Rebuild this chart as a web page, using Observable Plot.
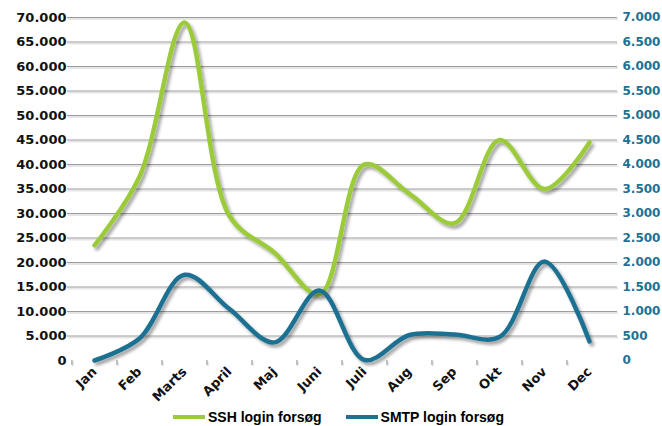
<!DOCTYPE html>
<html>
<head>
<meta charset="utf-8">
<script src="https://cdn.jsdelivr.net/npm/d3@7"></script>
<script src="https://cdn.jsdelivr.net/npm/@observablehq/plot@0.6"></script>
<style>
  body { margin: 0; background: #fff; }
  #chart { position: relative; width: 662px; height: 426px; overflow: hidden; }
  .legend { position: absolute; top: 409px; left: 173px; display: flex; gap: 24px;
            font: bold 14px "Liberation Sans", Arial, sans-serif; color: #000; }
  .legend span { display: flex; align-items: center; }
  .legend i { display: inline-block; width: 32px; height: 4px; margin-right: 3px; }
</style>
</head>
<body>
<div id="chart"></div>
<script>
// Monthly login attempts
const months = ["Jan", "Feb", "Marts", "April", "Maj", "Juni", "Juli", "Aug", "Sep", "Okt", "Nov", "Dec"];
const ssh  = [23500, 37500, 69000, 29500, 22000, 13500, 40000, 34000, 28000, 45000, 35000, 44500];
const smtp = [0, 450, 1750, 1050, 370, 1430, 10, 520, 530, 480, 2020, 390];

const seriesNames = ["SSH login forsøg", "SMTP login forsøg"];
const colors = ["#9bcb3b", "#1f7192"];

// Axis ticks: left axis for SSH, right axis for SMTP
const leftTicks = d3.range(0, 70001, 5000);
const rightTicks = d3.range(0, 7001, 500);
const leftMax = 70000, rightMax = 7000;
const ratio = leftMax / rightMax;

const fmt = d3.formatLocale({decimal: ",", thousands: ".", grouping: [3], currency: ["", ""]}).format(",");

const rows = months.map((m, i) => ({month: m, ssh: ssh[i], smtp: smtp[i]}));

const W = 662, H = 400, ML = 71, MR = 50, MT = 17, MB = 40;
const step = (W - ML - MR) / months.length;

const plot = Plot.plot({
  width: W, height: H,
  marginLeft: ML, marginRight: MR, marginTop: MT, marginBottom: MB,
  style: {fontFamily: "DejaVu Sans", fontWeight: "bold", fontSize: "13px", background: "white", overflow: "visible"},
  x: {type: "point", domain: months, padding: 0.5, label: null},
  y: {domain: [0, leftMax], label: null},
  marks: [
    // gridlines, extended outward as tick marks on both sides
    Plot.ruleY(leftTicks.filter(d => d > 0), {stroke: "#9c9c9c", strokeWidth: 1, strokeOpacity: 1, insetLeft: -4, insetRight: -5}),
    // bottom tick marks at category boundaries
    Plot.ruleX(months, {x: d => d, y1: 0, y2: 0, insetBottom: -5, dx: -step / 2, stroke: "#8a8a8a", strokeOpacity: 1}),
    Plot.ruleX([months[months.length - 1]], {x: d => d, y1: 0, y2: 0, insetBottom: -5, dx: step / 2, stroke: "#8a8a8a", strokeOpacity: 1}),
    // axis lines
    Plot.ruleX([months[0]], {x: d => d, y1: 0, y2: leftMax, dx: -step / 2, stroke: "#c4c4c4", strokeWidth: 2, strokeOpacity: 1}),
    Plot.ruleX([months[months.length - 1]], {x: d => d, y1: 0, y2: leftMax, dx: step / 2, stroke: "#8c8c8c", strokeWidth: 2, strokeOpacity: 1}),
    Plot.ruleY([0], {stroke: "#8c8c8c", strokeWidth: 2, strokeOpacity: 1, insetLeft: -4, insetRight: -5}),
    // series
    Plot.line(rows, {x: "month", y: "ssh", stroke: colors[0], strokeWidth: 4.5, curve: "catmull-rom", strokeLinecap: "round"}),
    Plot.line(rows, {x: "month", y: d => d.smtp * ratio, stroke: colors[1], strokeWidth: 4.5, curve: "catmull-rom", strokeLinecap: "round"}),
    // axes
    Plot.axisY({anchor: "left", ticks: leftTicks, tickFormat: fmt, tickSize: 0, tickPadding: 5, fill: "#111", label: null}),
    Plot.axisY({anchor: "right", ticks: rightTicks.map(d => d * ratio), tickFormat: d => fmt(d / ratio), tickSize: 0, tickPadding: 10, fontSize: 12, fill: colors[1], textAnchor: "start", label: null}),
    Plot.axisX({tickRotate: -45, tickSize: 0, tickPadding: 9, fill: "#111", label: null})
  ]
});

// soft drop shadows for lines and rules
const svg = d3.select(plot);
const defs = svg.insert("defs", ":first-child");
const f1 = defs.append("filter").attr("id", "lineShadow").attr("x", "-10%").attr("y", "-10%").attr("width", "130%").attr("height", "130%");
f1.append("feDropShadow").attr("dx", 2.5).attr("dy", 3).attr("stdDeviation", 1.6).attr("flood-color", "#000").attr("flood-opacity", 0.35);
const f2 = defs.append("filter").attr("id", "ruleShadow").attr("x", "-5%").attr("y", "-5%").attr("width", "110%").attr("height", "110%");
f2.append("feDropShadow").attr("dx", 1).attr("dy", 1.5).attr("stdDeviation", 0.6).attr("flood-color", "#000").attr("flood-opacity", 0.2);
svg.selectAll('g[aria-label="line"]').attr("filter", "url(#lineShadow)");
svg.selectAll('g[aria-label="rule"]').attr("filter", "url(#ruleShadow)");

const chart = document.getElementById("chart");
chart.appendChild(plot);

const legend = document.createElement("div");
legend.className = "legend";
seriesNames.forEach((name, i) => {
  const s = document.createElement("span");
  const sw = document.createElement("i");
  sw.style.background = colors[i];
  s.appendChild(sw);
  s.appendChild(document.createTextNode(name));
  legend.appendChild(s);
});
chart.appendChild(legend);
</script>
</body>
</html>
